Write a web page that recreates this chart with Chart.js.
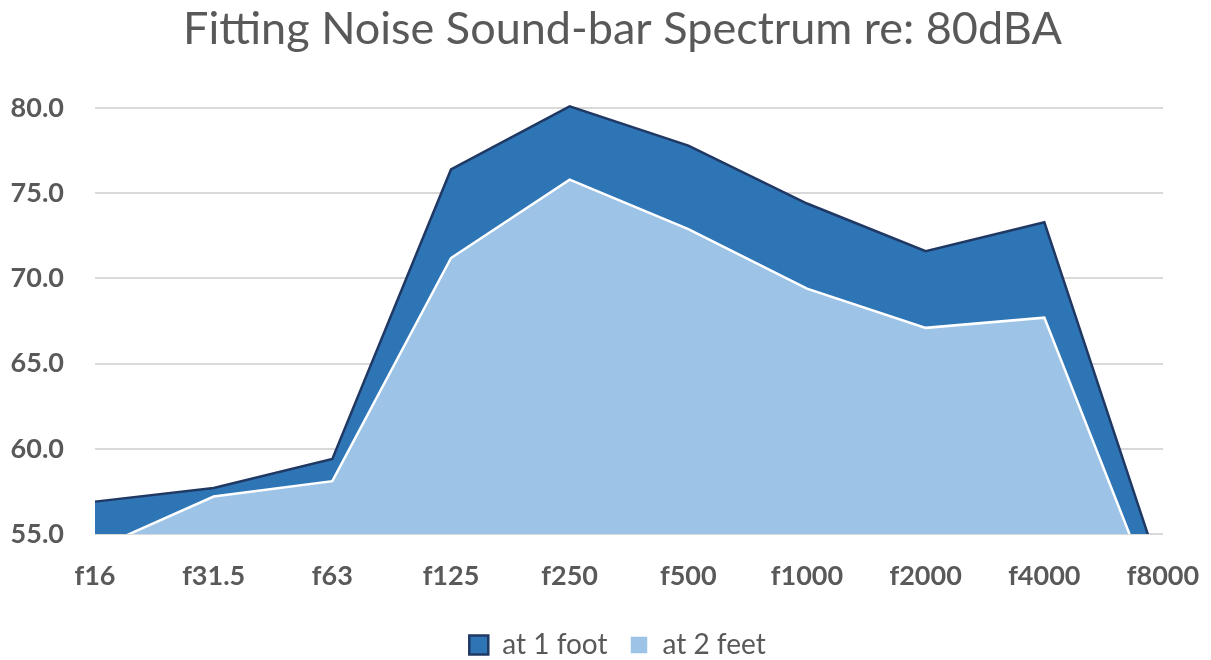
<!DOCTYPE html>
<html><head><meta charset="utf-8">
<script src="https://cdn.jsdelivr.net/npm/chart.js@4/dist/chart.umd.min.js"></script>
<style>html,body{margin:0;padding:0;background:#fff}#wrap{width:1211px;height:660px}</style>
</head><body><div id="wrap"><canvas id="c"></canvas></div>
<script>
const categories = ["f16","f31.5","f63","f125","f250","f500","f1000","f2000","f4000","f8000"];
const atOneFoot = [56.9,57.7,59.4,76.4,80.1,77.8,74.4,71.6,73.3,52.3];
const atTwoFeet = [54.1,57.2,58.1,71.2,75.8,72.9,69.4,67.1,67.7,50.0];
const yTicks = [55,60,65,70,75,80];
const FONT = "Lato, 'Open Sans', sans-serif";
const GREY = "#595959";

const shiftBoxes = {
  id:'shiftBoxes',
  afterLayout(chart){
    const t = chart.titleBlock; if (t){ t.left += 17; t.right += 17; }
    const l = chart.legend; if (l){ l.left += 12; l.right += 12; l.top += 9; l.bottom += 9; }
  }
};

new Chart(document.getElementById('c'), {
  type: 'line',
  data: {
    labels: categories,
    datasets: [
      {label:'at 1 foot', data: atOneFoot, fill:'start', backgroundColor:'#2E75B6', borderColor:'#1F3864', borderWidth:2.5, pointRadius:0, tension:0, order:1},
      {label:'at 2 feet', data: atTwoFeet, fill:'start', backgroundColor:'#9DC3E6', borderColor:'#FFFFFF', borderWidth:2.5, pointRadius:0, tension:0, order:0}
    ]
  },
  plugins:[shiftBoxes],
  options: {
    responsive:true, maintainAspectRatio:false, animation:false,
    layout:{padding:{left:0,right:0,top:0,bottom:0}},
    plugins:{
      title:{display:true,text:'Fitting Noise Sound-bar Spectrum re: 80dBA',color:GREY,
        font:{family:FONT,size:45,weight:'normal'},padding:{top:2,bottom:47}},
      legend:{position:'bottom',labels:{color:GREY,font:{family:FONT,size:28},boxWidth:19,boxHeight:19,padding:22,
        sort:(a,b)=>a.datasetIndex-b.datasetIndex}},
      tooltip:{enabled:false}
    },
    scales:{
      x:{offset:false,grid:{display:false},border:{display:false},
        afterFit:(ax)=>{ax.paddingRight=48;ax.paddingLeft=0;ax.height=66;},
        ticks:{color:GREY,font:{family:FONT,size:27,weight:'bold'},padding:18,maxRotation:0,autoSkip:false}},
      y:{min:55,max:80.3,
        afterBuildTicks:(ax)=>{ax.ticks=yTicks.map(v=>({value:v}));},
        afterFit:(ax)=>{ax.width=95;},
        grid:{color:'#D9D9D9',lineWidth:2,drawTicks:false},border:{display:false},
        ticks:{color:GREY,font:{family:FONT,size:27,weight:'bold'},padding:31,callback:(v)=>Number(v).toFixed(1)}}
    }
  }
});
</script></body></html>
